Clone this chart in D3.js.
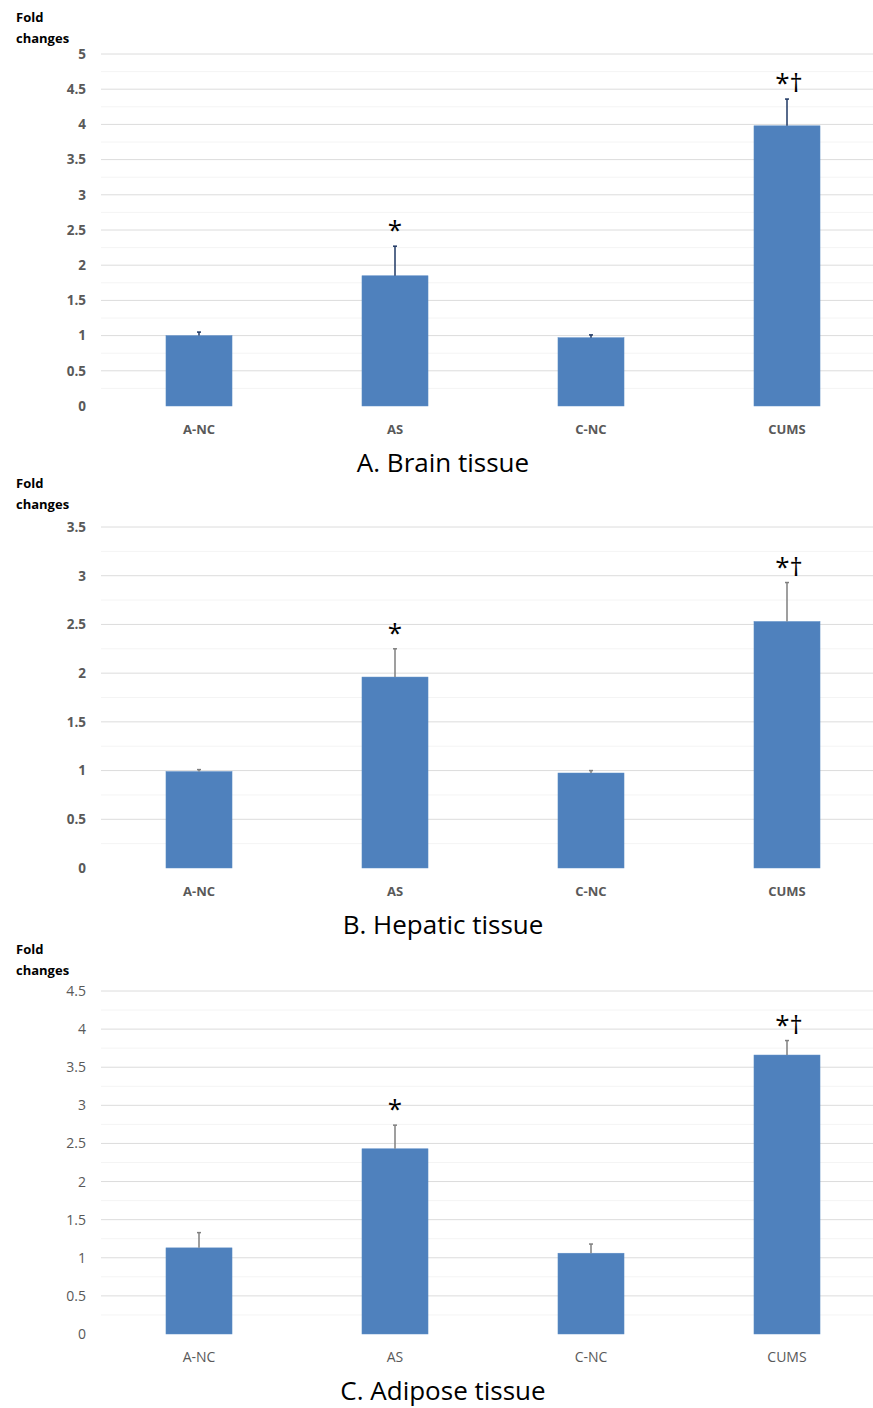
<!DOCTYPE html>
<html>
<head>
<meta charset="utf-8">
<script src="https://cdn.jsdelivr.net/npm/d3@7"></script>
<style>
  body { margin: 0; background: #fff; }
  text { font-family: "Open Sans", Lato, sans-serif; }
</style>
</head>
<body>
<div class="chart"></div>
<script>
// data
const categories = ["A-NC", "AS", "C-NC", "CUMS"];
const brainMeans = [1.0, 1.85, 0.97, 3.98];
const brainErrs = [0.05, 0.42, 0.04, 0.38];
const hepaticMeans = [0.99, 1.96, 0.975, 2.53];
const hepaticErrs = [0.02, 0.29, 0.025, 0.40];
const adiposeMeans = [1.13, 2.43, 1.06, 3.66];
const adiposeErrs = [0.20, 0.31, 0.12, 0.19];
const marks = ["", "*", "", "*†"];
const brainTicks = [0, 0.5, 1, 1.5, 2, 2.5, 3, 3.5, 4, 4.5, 5];
const hepaticTicks = [0, 0.5, 1, 1.5, 2, 2.5, 3, 3.5];
const adiposeTicks = [0, 0.5, 1, 1.5, 2, 2.5, 3, 3.5, 4, 4.5];

const W = 873, H = 1408;
const svg = d3.select(".chart").append("svg")
  .attr("width", W)
  .attr("height", H);
svg.append("rect").attr("width", W).attr("height", H).attr("fill", "#fff");

function drawPanel(p) {
  const g = svg.append("g");
  const yMax = d3.max(p.ticks);
  const y = d3.scaleLinear().domain([0, yMax]).range([p.bottom, p.top]);
  const x = d3.scaleBand().domain(categories).range([101, 885])
    .paddingInner(0.663).paddingOuter(0.3315);

  // faint minor grid lines
  const minor = d3.range(0.25, yMax, 0.5);
  g.selectAll(".minor").data(minor).enter().append("line")
    .attr("x1", 101).attr("x2", W)
    .attr("y1", d => y(d)).attr("y2", d => y(d))
    .attr("stroke", "#f4f4f4").attr("stroke-width", 1);

  // major grid lines
  g.selectAll(".grid").data(p.ticks.filter(d => d > 0)).enter().append("line")
    .attr("x1", 101).attr("x2", W)
    .attr("y1", d => y(d)).attr("y2", d => y(d))
    .attr("stroke", "#dcdcdc").attr("stroke-width", 1);

  // y axis labels
  const yAxis = d3.axisLeft(y).tickValues(p.ticks).tickSize(0).tickPadding(0)
    .tickFormat(d3.format("~g"));
  const ax = g.append("g").attr("transform", "translate(86,0)").call(yAxis);
  ax.select(".domain").remove();
  ax.selectAll("text")
    .attr("font-family", "'Open Sans', Lato, sans-serif")
    .attr("font-size", p.bold ? 13.5 : 14)
    .attr("font-weight", p.bold ? "bold" : "normal")
    .attr("fill", "#595959");

  // bars
  const data = categories.map((c, i) => ({ c, m: p.means[i], e: p.errs[i], mark: marks[i] }));
  g.selectAll(".bar").data(data).enter().append("rect")
    .attr("x", d => x(d.c))
    .attr("width", x.bandwidth())
    .attr("y", d => y(d.m))
    .attr("height", d => y(0) - y(d.m))
    .attr("fill", "#4f81bd")
    .attr("stroke", "#5b8cc6").attr("stroke-width", 0.5);

  // error bars (upper only)
  const cx = d => x(d.c) + x.bandwidth() / 2;
  g.selectAll(".err").data(data).enter().append("line")
    .attr("x1", cx).attr("x2", cx)
    .attr("y1", d => y(d.m)).attr("y2", d => y(d.m + d.e))
    .attr("stroke", p.errColor).attr("stroke-width", 1.5);
  g.selectAll(".cap").data(data).enter().append("line")
    .attr("x1", d => cx(d) - 2).attr("x2", d => cx(d) + 2)
    .attr("y1", d => y(d.m + d.e)).attr("y2", d => y(d.m + d.e))
    .attr("stroke", p.errColor).attr("stroke-width", 1.5);

  // significance marks
  g.selectAll(".mark").data(data.filter(d => d.mark)).enter().append("text")
    .attr("x", d => cx(d) + (d.mark.length > 1 ? 2 : 0))
    .attr("y", d => y(d.m + d.e) - 7)
    .attr("text-anchor", "middle")
    .attr("font-family", "'DejaVu Sans', sans-serif")
    .attr("font-size", 26)
    .attr("fill", "#000")
    .text(d => d.mark);

  // x labels
  g.selectAll(".xl").data(categories).enter().append("text")
    .attr("x", d => x(d) + x.bandwidth() / 2)
    .attr("y", p.bottom + 28)
    .attr("text-anchor", "middle")
    .attr("font-size", p.bold ? 13 : 14)
    .attr("font-weight", p.bold ? "bold" : "normal")
    .attr("fill", "#595959")
    .text(d => d);

  // y title
  g.append("text").attr("x", 16).attr("y", p.labelY)
    .attr("font-size", 13).attr("font-weight", "bold").text("Fold");
  g.append("text").attr("x", 16).attr("y", p.labelY + 21)
    .attr("font-size", 13).attr("font-weight", "bold").text("changes");

  // panel title
  g.append("text").attr("x", 443).attr("y", p.bottom + 66)
    .attr("text-anchor", "middle")
    .attr("font-size", 26).attr("fill", "#000")
    .text(p.title);
}

drawPanel({ title: "A. Brain tissue", means: brainMeans, errs: brainErrs, ticks: brainTicks,
  top: 54, bottom: 406, labelY: 22, errColor: "#1f3864", bold: true });
drawPanel({ title: "B. Hepatic tissue", means: hepaticMeans, errs: hepaticErrs, ticks: hepaticTicks,
  top: 527, bottom: 868, labelY: 488, errColor: "#7f7f7f", bold: true });
drawPanel({ title: "C. Adipose tissue", means: adiposeMeans, errs: adiposeErrs, ticks: adiposeTicks,
  top: 991, bottom: 1334, labelY: 954, errColor: "#7f7f7f", bold: false });
</script>
</body>
</html>
